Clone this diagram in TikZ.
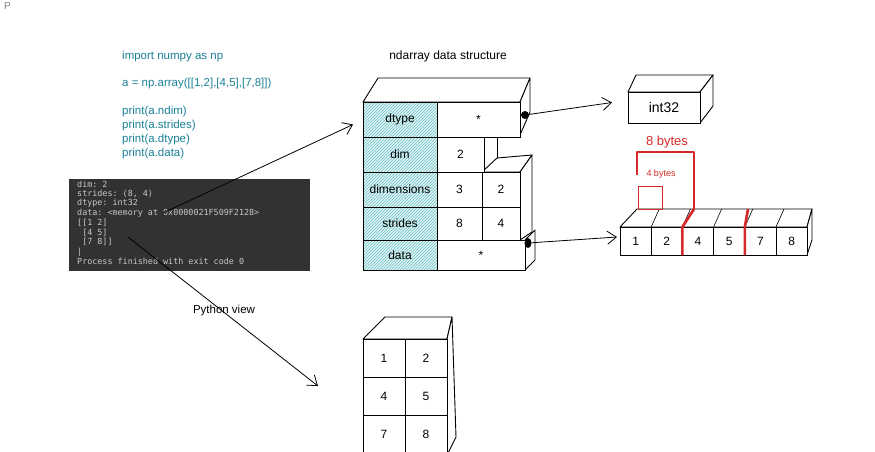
\documentclass[tikz,border=0pt]{standalone}
\usepackage{fontspec}
\setmainfont{Liberation Sans}
\setmonofont{DejaVu Sans Mono}
\usetikzlibrary{arrows.meta,positioning,calc,patterns,shapes.geometric}
\definecolor{codeteal}{RGB}{28,128,152}
\definecolor{hatchcyan}{RGB}{110,195,200}
\definecolor{termbg}{RGB}{50,50,50}
\definecolor{termfg}{RGB}{200,200,200}
\definecolor{sketchred}{RGB}{214,40,40}

\begin{document}
\begin{tikzpicture}[x=1pt, y=-1pt,
    cell/.style={draw, line width=1pt, fill=white, anchor=north west, inner sep=0pt, outer sep=0pt, font=\fontsize{12}{14}\selectfont},
    field/.style={cell, preaction={fill=hatchcyan!22}, pattern=north east lines, pattern color=hatchcyan},
    face/.style={draw, line width=0.9pt, fill=white, line join=round},
    dot/.style={circle, fill=black, inner sep=0pt, minimum size=8pt},
    barb/.style={-{Straight Barb[length=9pt,width=13pt]}, line width=0.8pt},
    code/.style={anchor=west, inner sep=0pt, text=codeteal, font=\fontsize{11.5}{13}\selectfont},
    term/.style={anchor=west, inner sep=0pt, text=termfg, font=\ttfamily\fontsize{8.4}{9}\selectfont},
    redline/.style={draw=sketchred, line width=1.2pt, line join=round},
]
    \useasboundingbox[fill=white] (0,0) rectangle (875,451);
    \node[anchor=north west, inner sep=0pt, text=gray, font=\fontsize{10}{12}\selectfont] (corner) at (4,2) {P};

    % code
    \node[code] (c1) at (122,57) {import numpy as np};
    \node[code] (c2) at (122,84) {a = np.array([[1,2],[4,5],[7,8]])};
    \node[code] (c3) at (122,112) {print(a.ndim)};
    \node[code] (c4) at (122,126) {print(a.strides)};
    \node[code] (c5) at (122,140) {print(a.dtype)};
    \node[code] (c6) at (122,154) {print(a.data)};

    % console output
    \node[fill=termbg, anchor=north west, inner sep=0pt, minimum width=241pt, minimum height=92pt] (terminal) at (69,179) {};
    \foreach \txt [count=\i] in {{dim: 2}, {strides: (8, 4)}, {dtype: int32}, {data: <memory at 0x0000021F509F2128>},
        {[[1 2]}, {\phantom{[}[4 5]}, {\phantom{[}[7 8]]}, {|}, {Process finished with exit code 0}}
        \node[term] (t\i) at (77,{184+9.7*(\i-1)}) {\txt};

    % ndarray structure
    \node[font=\fontsize{12}{14}\selectfont] (title) at (448,56) {ndarray data structure};
    \draw[face] (363,102) -- (378,78) -- (530,78) -- (520,102) -- cycle;
    \draw[face] (520,102) -- (530,78) -- (530,112) -- (520,135) -- cycle;
    \draw[line width=0.9pt] (497,135) -- (497,158);
    \draw[face] (482,172) -- (497,158) -- (532,155) -- (520,172) -- cycle;
    \draw[face] (520,172) -- (532,155) -- (532,232) -- (520,240) -- cycle;
    \draw[face] (525,240) -- (535,230) -- (535,260) -- (525,270) -- cycle;

    \node[field, minimum width=74pt, minimum height=35pt] (dtype) at (363,102) {dtype};
    \node[field, minimum width=74pt, minimum height=35pt] (dim) at (363,137) {dim};
    \node[field, minimum width=74pt, minimum height=35pt] (dimensions) at (363,172) {dimensions};
    \node[field, minimum width=74pt, minimum height=33pt] (strides) at (363,207) {strides};
    \node[field, minimum width=74pt, minimum height=30pt] (data) at (363,240) {data};

    \node[cell, minimum width=83pt, minimum height=35pt] (dtptr) at (437,102) {*};
    \node[cell, minimum width=47pt, minimum height=35pt] (dimv) at (437,137) {2};
    \node[cell, minimum width=45pt, minimum height=35pt] (shape0) at (437,172) {3};
    \node[cell, minimum width=38pt, minimum height=35pt] (shape1) at (482,172) {2};
    \node[cell, minimum width=45pt, minimum height=33pt] (stride0) at (437,207) {8};
    \node[cell, minimum width=38pt, minimum height=33pt] (stride1) at (482,207) {4};
    \node[cell, minimum width=88pt, minimum height=30pt] (dataptr) at (437,240) {*};

    \node[dot] (dtdot) at (525,115) {};
    \node[ellipse, fill=black, inner sep=0pt, minimum width=7pt, minimum height=10pt] (dadot) at (528,243) {};

    % int32
    \draw[face] (628,92) -- (636,75) -- (713,75) -- (700,92) -- cycle;
    \draw[face] (700,92) -- (713,75) -- (713,106) -- (700,123) -- cycle;
    \node[cell, minimum width=72pt, minimum height=31pt, font=\fontsize{14}{16}\selectfont] (int32) at (628,92) {int32};

    % memory
    \draw[face] (620,227) -- (637,209) -- (812,209) -- (807,227) -- cycle;
    \draw[face] (807,227) -- (812,209) -- (812,240) -- (807,255) -- cycle;
    \foreach \k in {1,...,5}
        \draw[line width=0.6pt] ({620+31.2*\k},227) -- ++(8,-18);
    \foreach \v [count=\i] in {1,2,4,5,7,8}
        \node[cell, minimum width=31.2pt, minimum height=28pt] (m\v) at ({620+31.2*(\i-1)},227) {\v};

    \draw[redline] (637,175) -- (637,152) -- (694,152) -- (694,209);
    \draw[redline, line width=2.6pt] (m2.south east) -- (m2.north east) -- (694,209);
    \draw[redline, line width=2.6pt] (m5.south east) -- (m5.north east) -- (748,209);
    \draw[redline, line width=1pt] (638,186) rectangle (662,209);
    \node[text=sketchred, font=\fontsize{13}{15}\selectfont] (bytes8) at (667,142) {8 bytes};
    \node[text=sketchred, font=\fontsize{9}{11}\selectfont] (bytes4) at (661,174) {4 bytes};

    % python view
    \node[font=\fontsize{11.5}{13}\selectfont] (pyview) at (224,311) {Python view};
    \draw[face] (363,339) -- (385,317) -- (452,317) -- (447,339) -- cycle;
    \draw[face] (447,339) -- (452,317) -- (456,437) -- (447,455) -- cycle;
    \foreach \a/\b [count=\r] in {1/2,4/5,7/8} {
        \node[cell, minimum width=42pt, minimum height=38pt] (p\a) at (363,{339+38*(\r-1)}) {\a};
        \node[cell, minimum width=42pt, minimum height=38pt] (p\b) at (405,{339+38*(\r-1)}) {\b};
    }

    % arrows
    \coordinate (addr) at (163,213);
    \coordinate (toStruct) at ($(dtype.west)+(-10,5)$);
    \coordinate (view) at (128,237);
    \coordinate (toView) at (318,386);
    \draw[barb] (addr) -- (toStruct);
    \draw[barb] (view) -- (toView);
    \draw[barb] (dtdot) -- ([xshift=-16pt,yshift=5pt]int32.west);
    \draw[barb] (dadot) -- ([xshift=-3pt,yshift=4pt]m1.west);
\end{tikzpicture}
\end{document}
